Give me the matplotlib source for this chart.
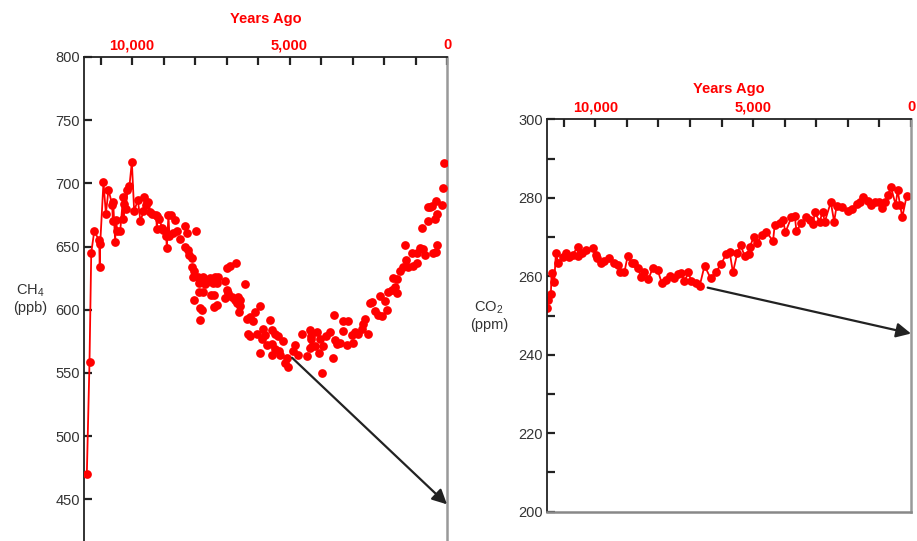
import numpy as np
import matplotlib
matplotlib.use('Agg')
from matplotlib import pyplot as plt

plt.rcParams['font.family'] = ['Liberation Sans', 'DejaVu Sans']

RED = '#ff0000'
DARK = '#222222'
GREY = '#999999'

# CH4 record, years before present / ppb
ch4_age = [11440, 11355, 11300, 11206, 11048, 11016, 11030, 10911, 10835, 10752,
           10635, 10613, 10603, 10540, 10517, 10467, 10381, 10290, 10276, 10244,
           10200, 10149, 10086, 10010, 9937, 9819, 9737, 9641, 9610, 9556,
           9483, 9429, 9375, 9238, 9216, 9197, 9133, 9057, 9006, 8921,
           8898, 8848, 8816, 8762, 8689, 8635, 8562, 8476, 8330, 8317,
           8244, 8230, 8181, 8105, 8090, 8054, 8040, 8022, 7968, 7895,
           7890, 7880, 7841, 7835, 7787, 7756, 7737, 7683, 7628, 7524,
           7492, 7419, 7410, 7387, 7365, 7311, 7292, 7260, 7048, 7040,
           6994, 6990, 6943, 6889, 6835, 6730, 6698, 6676, 6625, 6620,
           6571, 6565, 6413, 6359, 6308, 6254, 6250, 6149, 6095, 6041,
           5937, 5930, 5883, 5832, 5778, 5724, 5619, 5565, 5560, 5555,
           5460, 5455, 5356, 5350, 5302, 5197, 5143, 5089, 5038, 4879,
           4825, 4720, 4613, 4454, 4349, 4345, 4327, 4317, 4295, 4190,
           4137, 4063, 4032, 3978, 3927, 3841, 3714, 3609, 3600, 3556,
           3502, 3397, 3312, 3291, 3184, 3133, 3026, 2974, 2921, 2815,
           2709, 2656, 2603, 2497, 2444, 2392, 2286, 2180, 2127, 2074,
           1968, 1915, 1863, 1757, 1704, 1651, 1597, 1590, 1492, 1386,
           1333, 1302, 1228, 1121, 1069, 962, 955, 857, 804, 752,
           698, 593, 588, 540, 486, 435, 381, 360, 355, 328,
           307, 169, 116, 95]
ch4_ppb = [470, 559, 645, 662, 655, 652, 634, 701, 676, 695,
           683, 670, 685, 654, 671, 662, 662, 689, 672, 684,
           680, 695, 698, 717, 678, 687, 670, 678, 689, 683,
           685, 677, 676, 675, 664, 674, 672, 665, 663, 658,
           649, 675, 658, 675, 661, 671, 662, 656, 650, 666,
           661, 647, 643, 641, 634, 626, 608, 631, 662, 626,
           621, 614, 601, 592, 600, 614, 626, 620, 622, 625,
           612, 621, 602, 612, 626, 604, 621, 626, 623, 609,
           633, 616, 613, 635, 610, 608, 637, 605, 610, 598,
           608, 603, 620, 593, 581, 594, 579, 591, 598, 581,
           603, 566, 577, 585, 580, 572, 592, 584, 573, 564,
           581, 569, 579, 567, 564, 575, 558, 562, 555, 567,
           572, 564, 581, 563, 584, 570, 579, 577, 571, 571,
           582, 566, 577, 550, 571, 579, 582, 562, 596, 576,
           573, 574, 583, 591, 572, 591, 580, 574, 582, 581,
           585, 589, 593, 581, 605, 606, 599, 596, 611, 595,
           607, 600, 614, 616, 625, 618, 624, 613, 631, 634,
           651, 639, 634, 645, 635, 637, 645, 649, 665, 648,
           643, 670, 681, 681, 682, 645, 672, 686, 646, 676,
           651, 683, 696, 716]

# CO2 record, years before present / ppm
co2_age = [11540, 11492, 11407, 11386, 11302, 11248, 11175, 11038, 10930, 10825,
           10720, 10562, 10540, 10435, 10296, 10086, 9978, 9960, 9819, 9714,
           9555, 9397, 9270, 9206, 9079, 8975, 8848, 8762, 8657, 8549,
           8444, 8317, 8181, 8022, 7895, 7756, 7619, 7492, 7387, 7279,
           7175, 7048, 6962, 6803, 6698, 6540, 6349, 6168, 6009, 5851,
           5746, 5641, 5502, 5397, 5270, 5143, 5111, 4975, 4867, 4720,
           4581, 4371, 4317, 4159, 4054, 3978, 3787, 3683, 3629, 3470,
           3311, 3206, 3101, 3048, 2889, 2803, 2730, 2540, 2435, 2359,
           2200, 2010, 1883, 1724, 1619, 1514, 1375, 1279, 1143, 1016,
           930, 825, 721, 635, 486, 422, 349, 276, 137]
co2_ppm = [252.0, 254.0, 255.5, 260.8, 258.5, 265.9, 263.4, 265.0, 265.9, 265.0,
           265.5, 267.4, 265.2, 265.9, 266.7, 267.2, 265.5, 264.6, 263.5, 263.8,
           264.6, 263.5, 262.9, 261.0, 261.0, 265.2, 263.5, 263.5, 262.1, 259.8,
           261.0, 259.3, 262.1, 261.5, 258.3, 259.1, 260.0, 259.5, 260.5, 260.8,
           258.7, 261.0, 258.7, 258.3, 257.4, 262.7, 259.5, 261.2, 263.2, 265.7,
           266.3, 261.0, 265.9, 267.9, 265.2, 265.7, 267.4, 270.1, 268.6, 270.5,
           271.4, 268.9, 273.1, 273.5, 274.4, 271.2, 275.1, 275.4, 271.6, 273.5,
           275.2, 274.4, 273.4, 276.3, 273.9, 276.5, 273.9, 278.9, 273.9, 277.8,
           277.6, 276.7, 277.1, 278.4, 279.0, 280.3, 279.3, 278.1, 279.0, 279.0,
           277.3, 279.0, 280.7, 282.7, 278.2, 282.0, 278.2, 275.1, 280.5]

age_ticks = list(range(0, 11001, 1000))
age_labels = {0: '0', 5000: '5,000', 10000: '10,000'}

# arrows: (start age, start value) -> (end age, end value)
ch4_arrow = ((4920, 562), (0, 446))
co2_arrow = ((6440, 257.1), (0, 245.4))


def style_axes(ax, ylabel, label_x):
    ax.set_xlim(11530, 0)
    ax.xaxis.tick_top()
    ax.set_xticks(age_ticks, [age_labels.get(t, '') for t in age_ticks],
                  fontweight='bold', color=RED, fontsize=10.5)
    ax.xaxis.set_label_position('top')
    ax.set_xlabel('Years Ago', color=RED, fontweight='bold', fontsize=10.5, va='center')
    ax.tick_params(axis='x', which='both', direction='in', length=5.5, width=1.6,
                   color=DARK, pad=3.5)
    ax.tick_params(axis='y', which='both', direction='in', length=6, width=1.6,
                   color=DARK, labelcolor='#333333', labelsize=10.5, pad=3)
    ax.set_ylabel(ylabel, rotation=0, ha='center', va='center', fontsize=10.5,
                  color='#333333')
    ax.yaxis.set_label_coords(label_x, 0.5)
    ax.spines['left'].set_color(DARK)
    ax.spines['top'].set_color(DARK)
    ax.spines['left'].set_linewidth(1.3)
    ax.spines['top'].set_linewidth(1.3)
    ax.spines['right'].set_color(GREY)
    ax.spines['right'].set_linewidth(1.8)


fig = plt.figure(figsize=(9.17, 5.41), dpi=100)
ax1 = fig.add_axes([84 / 917, 0.0, 363 / 917, 484 / 541])
ax2 = fig.add_axes([547 / 917, 29.3 / 541, 364 / 917, 392.4 / 541])

# ---- CH4 panel
order = np.argsort(ch4_age)[::-1]
age = np.array(ch4_age)[order]
ppb = np.array(ch4_ppb)[order]
early = age >= 8800
ax1.plot(age[early], ppb[early], color=RED, lw=1.3, zorder=2)
ax1.plot(age, ppb, 'o', color=RED, ms=6.3, mew=0, zorder=3)
ax1.set_ylim(417, 800)
ax1.set_yticks(np.arange(450, 801, 50))
ax1.spines['bottom'].set_visible(False)
style_axes(ax1, 'CH$_\\mathregular{4}$\n(ppb)', -0.149)
ax1.xaxis.set_label_coords(0.5, 1.0785)
ax1.annotate('', xy=ch4_arrow[1], xytext=ch4_arrow[0],
             arrowprops=dict(arrowstyle='-|>', color=DARK, lw=1.6,
                             mutation_scale=22, shrinkA=0, shrinkB=0))

# ---- CO2 panel
ax2.plot(co2_age, co2_ppm, '-o', color=RED, lw=1.3, ms=6.3, mew=0)
ax2.set_ylim(200, 300)
ax2.set_yticks(np.arange(200, 301, 20))
ax2.set_yticks(np.arange(210, 300, 20), minor=True)
ax2.spines['bottom'].set_color('#888888')
ax2.spines['bottom'].set_linewidth(1.8)
style_axes(ax2, 'CO$_\\mathregular{2}$\n(ppm)', -0.159)
ax2.xaxis.set_label_coords(0.5, 1.0772)
ax2.annotate('', xy=co2_arrow[1], xytext=co2_arrow[0],
             arrowprops=dict(arrowstyle='-|>', color=DARK, lw=1.6,
                             mutation_scale=22, shrinkA=0, shrinkB=0))

fig.savefig('out.png', dpi=100)
